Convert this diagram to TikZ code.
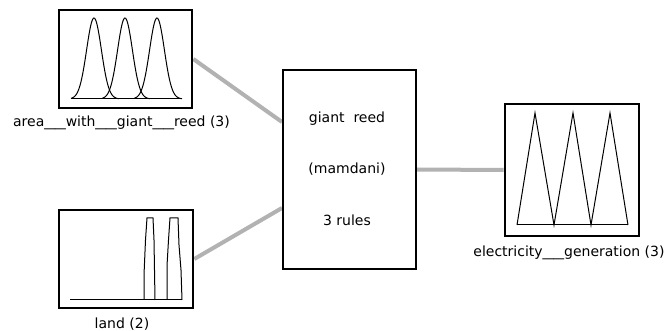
\documentclass[tikz,border=0pt]{standalone}
\usepackage{fontspec}
\setmainfont{DejaVu Sans}
\usetikzlibrary{backgrounds}
% a wider underscore, as in the labels of the fuzzy toolbox
\newcommand{\wideus}{\scalebox{1.53}[1]{\_}}
\tikzset{
  mfbox/.style={draw=black, line width=2.6pt, fill=white, inner sep=0pt},
  fisbox/.style={draw=black, line width=2pt, fill=white, inner sep=0pt},
  link/.style={draw=black!30, line width=4pt},
  curve/.style={draw=black, line width=1pt, line join=miter},
  lbl/.style={font=\fontsize{14}{16}\selectfont, inner sep=0pt, anchor=center}
}
\begin{document}
\begin{tikzpicture}[x=1pt, y=-1pt]
  \useasboundingbox (0,0) rectangle (665,331);

  % boxes
  \node[mfbox, minimum width=133pt, minimum height=98pt] (area) at (125.5,59) {};
  \node[mfbox, minimum width=134pt, minimum height=98pt] (land) at (126,259) {};
  \node[fisbox, minimum width=133pt, minimum height=199pt] (fis) at (349.5,169.5) {};
  \node[mfbox, minimum width=134pt, minimum height=132pt] (elec) at (572,170) {};

  % connectors
  \begin{scope}[on background layer]
    \fill[white] (0,0) rectangle (665,331);
    \draw[link] (area.east) -- ([yshift=47.5pt]fis.west);
    \draw[link] (land.east) -- ([yshift=-38.5pt]fis.west);
    \draw[link] (fis.east) -- (elec.west);
  \end{scope}

  % gaussian membership functions
  \draw[curve] (71,99) -- (182,99);
  \foreach \c in {94,125,157}{
    \draw[curve, smooth, samples=60, domain=\c-23:\c+25]
      plot (\x, {99-81*exp(-((\x-\c)^2)/(2*7.4^2))});
  }

  % trapezoidal membership functions
  \draw[curve] (70,300) -- (182,300);
  \draw[curve] (144,300) -- (144,275) -- (145.5,240) -- (147,218) -- (153,218)
               -- (154,240) -- (155,300);
  \draw[curve] (167,300) -- (167,266) -- (168.5,240) -- (170,218) -- (178,218)
               -- (179,245) -- (181,270) -- (182,300);

  % triangular membership functions
  \draw[curve] (517,225) -- (628,225);
  \draw[curve] (517,225) -- (535,113) -- (554,225) -- (573,113) -- (591,225)
               -- (610,113) -- (628,225);

  % labels
  \node[lbl] (arealbl) at (121.5,123) {area\wideus\wideus with\wideus\wideus giant\wideus\wideus reed (3)};
  \node[lbl] (landlbl) at (122,324) {land (2)};
  \node[lbl] (eleclbl) at (569,253) {electricity\wideus\wideus generation (3)};
  \node[lbl] (fisname) at (347,119) {giant\ \ reed};
  \node[lbl] (fistype) at (347,169) {(mamdani)};
  \node[lbl] (fisrules) at (347,220) {3 rules};
\end{tikzpicture}
\end{document}
